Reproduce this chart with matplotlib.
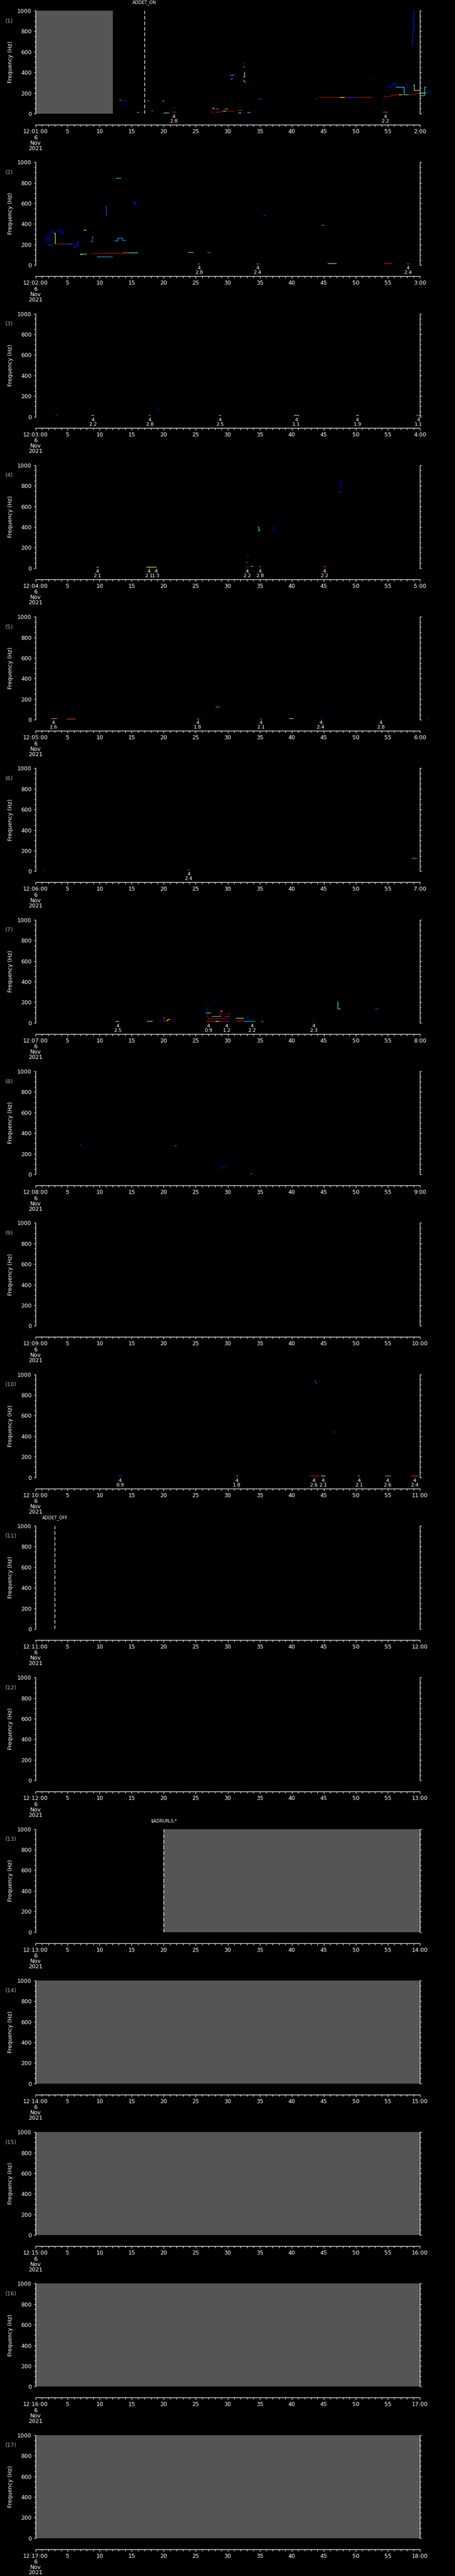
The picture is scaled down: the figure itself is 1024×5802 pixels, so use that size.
import matplotlib.pyplot as plt
import numpy as np

W, H = 1024, 5802
n_panels = 17
panel_h = H / n_panels

# panel n covers 12:n:00 .. 12:n+1:00, x in seconds
minutes = list(range(1, 18))

# grey "no data" spans (seconds)
gray_spans = {1: (0, 12.07), 13: (20, 60), 14: (0, 60), 15: (0, 60), 16: (0, 60), 17: (0, 60)}

# event markers: time, label
events = {1: (17.0, 'ADDET_ON'), 11: (3.0, 'ADDET_OFF'), 13: (20.0, '$ADRUN,0,*')}

# traces: (jet colour value, times, freqs) drawn as steps
p1_traces = [
    (0.3, [13.06, 13.4], [135, 135]),
    (0.15, [13.7, 14.2], [128, 128]),
    (0.12, [13.9, 14.2], [85, 85]),
    (0.4, [15.8, 16.1], [12, 12]),
    (0.12, [16.4, 16.8], [17, 17]),
    (0.75, [17.4, 17.7], [127, 127]),
    (0.1, [17.6, 18.0], [120, 120]),
    (0.8, [18.0, 18.3], [29, 29]),
    (0.35, [19.8, 20.1], [127, 127]),
    (0.5, [20.0, 20.8], [9, 9]),
    (0.12, [21.3, 21.7], [58, 58]),
    (0.9, [21.3, 21.9], [16, 16]),
    (0.95, [27.3, 27.9], [47, 47]),
    (0.55, [27.6, 27.75, 27.9], [52, 58, 58]),
    (0.95, [27.3, 27.9], [19, 19]),
    (0.3, [28.1, 28.6], [46, 46]),
    (0.92, [28.1, 28.9, 31.1], [19, 25, 25]),
    (0.65, [29.3, 29.6], [25, 25]),
    (0.35, [29.5, 30.0], [46, 46]),
    (0.3, [30.3, 31.0], [373, 373]),
    (0.25, [30.4, 30.6, 30.8], [330, 345, 345]),
    (0.85, [31.6, 32.1], [33, 33]),
    (0.5, [31.6, 32.1], [7, 7]),
    (0.12, [32.4, 32.7], [7, 7]),
    (0.35, [33.0, 33.5], [12, 12]),
    (0.15, [34.2, 34.5], [20, 20]),
    (0.15, [32.4, 32.5, 32.65], [485, 500, 500]),
    (0.35, [32.4, 32.65], [458, 458]),
    (0.6, [32.4, 32.6, 32.65], [356, 403, 403]),
    (0.35, [32.4, 32.5, 32.75], [328, 310, 305]),
    (0.2, [34.8, 35.4], [147, 147]),
    (0.15, [43.6, 44.0], [147, 147]),
    (0.95, [44.25, 52.7], [158, 158]),
    (0.65, [47.5, 48.2], [160, 160]),
    (0.15, [48.8, 50.0], [158, 158]),
    (0.12, [52.2, 52.6], [330, 330]),
    (0.85, [54.2, 55.0], [16, 16]),
    (0.95, [54.24, 55.2, 55.5, 56.2, 58.9, 59.3, 60.0, 60.5], [167, 172, 180, 184, 191, 198, 198, 198]),
    (0.12, [54.7, 55.5, 55.74, 56.1, 56.3], [257, 270, 296, 274, 274]),
    (0.35, [56.2, 57.5, 58.2], [257, 184, 184]),
    (0.1, [57.7, 57.85, 58.2], [292, 257, 257]),
    (0.65, [56.7, 57.2], [184, 184]),
    (0.12, [58.6, 58.9], [257, 257]),
    (0.55, [58.9, 59.1, 60.0], [282, 227, 227]),
    (0.35, [60.0, 60.7, 61.0], [175, 257, 257]),
    (0.55, [60.0, 61.0], [201, 201]),
    (0.15, [61.1, 61.4, 61.7], [227, 203, 203]),
    (0.15, [58.6, 58.8, 59.0, 59.15], [665, 809, 1000, 1000]),
]
p1_marks = [(21.6, '2.8'), (54.6, '2.2')]

p2_traces = [
    (0.1, [1.34, 1.73, 2.13, 2.59, 2.82], [282, 230, 310, 336, 310]),
    (0.6, [2.82, 3.05, 3.2], [310, 207, 207]),
    (0.15, [3.05, 3.6], [207, 207]),
    (0.9, [3.6, 4.6], [207, 207]),
    (0.2, [4.6, 5.2], [207, 207]),
    (0.85, [5.2, 5.6], [207, 207]),
    (0.15, [5.6, 6.0, 6.43, 6.5, 6.8], [207, 179, 202, 230, 230]),
    (0.2, [1.97, 2.66], [198, 198]),
    (0.12, [3.35, 3.93, 4.4, 4.6], [340, 310, 336, 336]),
    (0.6, [7.5, 7.9], [343, 343]),
    (0.4, [6.94, 7.98], [107, 107]),
    (0.7, [6.94, 7.2], [103, 103]),
    (0.25, [8.55, 8.9, 9.1], [230, 276, 276]),
    (0.95, [8.7, 10.2], [114, 114]),
    (0.92, [10.2, 13.5], [119, 119]),
    (0.8, [13.5, 14.5], [122, 122]),
    (0.45, [14.5, 15.95], [122, 122]),
    (0.3, [9.6, 12.0], [83, 83]),
    (0.2, [10.8, 11.0, 11.05], [572, 480, 480]),
    (0.3, [12.3, 12.83, 13.5, 14.06], [240, 266, 242, 242]),
    (0.35, [12.5, 13.3], [848, 848]),
    (0.15, [15.26, 15.4, 15.6], [588, 615, 592]),
    (0.4, [23.8, 24.6], [126, 126]),
    (0.25, [26.7, 27.3], [126, 126]),
    (0.35, [25.3, 25.6], [14, 14]),
    (0.35, [34.5, 34.8], [14, 14]),
    (0.18, [35.5, 35.9], [485, 485]),
    (0.3, [44.6, 45.1], [388, 388]),
    (0.45, [45.6, 46.95], [18, 18]),
    (0.9, [54.3, 55.6], [17, 17]),
    (0.25, [57.9, 58.4], [14, 14]),
]
p2_marks = [(25.5, '2.8'), (34.65, '2.4'), (58.1, '2.4')]

p3_traces = [
    (0.9, [3.1, 3.4], [19, 19]),
    (0.5, [8.65, 9.06], [14, 14]),
    (0.35, [17.6, 17.9], [14, 14]),
    (0.12, [18.8, 19.0, 19.26], [63, 70, 70]),
    (0.45, [28.6, 28.9], [14, 14]),
    (0.55, [40.3, 41.1], [14, 14]),
    (0.6, [50.0, 50.4], [14, 14]),
    (0.3, [59.4, 60.3], [14, 14]),
]
p3_marks = [(8.93, '2.2'), (17.8, '2.8'), (28.77, '2.5'), (40.7, '1.1'), (50.25, '1.9'), (59.76, '1.1')]

p4_traces = [
    (0.65, [9.5, 9.8], [12, 12]),
    (0.6, [17.3, 18.9], [12, 12]),
    (0.95, [32.7, 33.3], [16, 16]),
    (0.8, [32.8, 33.1], [59, 59]),
    (0.2, [33.0, 33.25], [123, 123]),
    (0.35, [33.5, 33.9], [20, 20]),
    (0.35, [34.7, 34.8, 34.95], [403, 364, 378]),
    (0.12, [34.7, 35.0], [320, 320]),
    (0.85, [34.8, 35.25], [16, 16]),
    (0.12, [37.05, 37.15, 37.3], [375, 403, 403]),
    (0.9, [44.8, 45.45], [16, 16]),
    (0.12, [47.35, 47.5, 47.6], [772, 820, 858]),
    (0.9, [47.3, 47.65], [743, 743]),
]
p4_marks = [(9.65, '2.1'), (17.67, '2.1'), (18.8, '1.3'), (33.0, '2.2'), (35.0, '2.8'), (45.1, '2.2')]

p5_traces = [
    (0.75, [2.4, 3.3], [15, 15]),
    (0.85, [4.8, 6.25], [11, 11]),
    (0.35, [25.1, 25.5], [11, 11]),
    (0.3, [28.1, 28.7], [124, 124]),
    (0.35, [35.0, 35.3], [11, 11]),
    (0.7, [39.55, 40.2], [15, 15]),
    (0.15, [44.4, 44.7], [11, 11]),
    (0.15, [53.7, 54.0], [11, 11]),
    (0.95, [61.1, 61.3], [7, 7]),
]
p5_marks = [(2.8, '2.6'), (25.3, '1.8'), (35.16, '2.1'), (44.5, '2.4'), (53.9, '2.8')]

p6_traces = [
    (0.15, [1.1, 1.4], [11, 11]),
    (0.3, [23.7, 24.0], [15, 15]),
    (0.3, [58.7, 59.5], [127, 127]),
]
p6_marks = [(23.9, '2.4')]

p7_traces = [
    (0.55, [12.5, 13.0], [15, 15]),
    (0.5, [17.35, 18.26], [15, 15]),
    (0.15, [18.1, 18.3], [22, 22]),
    (0.12, [19.2, 19.7], [11, 11]),
    (0.9, [19.75, 20.4], [19, 19]),
    (0.35, [19.9, 20.2], [49, 49]),
    (0.65, [20.4, 20.6, 21.0], [25, 33, 33]),
    (0.12, [26.6, 26.8, 27.1], [120, 150, 150]),
    (0.5, [26.6, 27.3], [98, 98]),
    (0.95, [26.6, 26.9, 30.3], [70, 40, 40]),
    (0.93, [26.6, 30.3], [15, 15]),
    (0.65, [28.0, 28.6], [15, 15]),
    (0.35, [27.5, 28.9], [64, 64]),
    (0.95, [28.5, 28.8, 29.3], [66, 94, 94]),
    (0.65, [28.8, 29.1], [116, 116]),
    (0.9, [29.5, 30.3], [64, 64]),
    (0.9, [29.9, 30.3], [90, 90]),
    (0.15, [29.5, 30.3], [41, 41]),
    (0.5, [31.3, 32.5], [45, 45]),
    (0.9, [31.3, 32.5], [21, 21]),
    (0.15, [32.9, 33.1, 33.2], [60, 41, 41]),
    (0.3, [32.5, 34.25], [15, 15]),
    (0.35, [35.25, 35.5], [15, 15]),
    (0.15, [43.2, 43.6], [15, 15]),
    (0.4, [47.1, 47.15, 47.6], [206, 137, 137]),
    (0.2, [53.0, 53.6], [137, 137]),
]
p7_marks = [(12.8, '2.5'), (26.96, '0.9'), (29.86, '1.2'), (33.76, '2.2'), (43.4, '2.3')]

p8_traces = [
    (0.15, [6.85, 7.0, 7.16], [293, 280, 280]),
    (0.3, [21.7, 22.0], [280, 280]),
    (0.12, [28.8, 29.0, 29.6], [60, 68, 68]),
    (0.35, [33.6, 33.8], [11, 11]),
    (0.12, [46.7, 47.0], [64, 64]),
]
p8_marks = []

p10_traces = [
    (0.15, [12.8, 13.6], [14, 14]),
    (0.3, [31.2, 31.6], [14, 14]),
    (0.15, [42.9, 43.2], [56, 56]),
    (0.9, [42.9, 44.3], [17, 17]),
    (0.2, [43.5, 43.7, 43.9], [938, 918, 918]),
    (0.7, [44.5, 45.2], [17, 17]),
    (0.2, [46.35, 46.7], [443, 443]),
    (0.35, [50.2, 50.6], [14, 14]),
    (0.75, [54.5, 55.4], [17, 17]),
    (0.85, [58.7, 59.7], [17, 17]),
]
p10_marks = [(13.2, '0.9'), (31.4, '1.8'), (43.4, '2.6'), (44.9, '2.1'), (50.5, '2.1'), (54.96, '2.6'), (59.2, '2.4')]

traces = {1: p1_traces, 2: p2_traces, 3: p3_traces, 4: p4_traces, 5: p5_traces,
          6: p6_traces, 7: p7_traces, 8: p8_traces, 10: p10_traces}
marks = {1: p1_marks, 2: p2_marks, 3: p3_marks, 4: p4_marks, 5: p5_marks,
         6: p6_marks, 7: p7_marks, 10: p10_marks}

fig = plt.figure(figsize=(W / 100, H / 100), dpi=100, facecolor='black')
jet = plt.get_cmap('jet')

x0, x1 = 80, 945
fs_tick = 9
white = 'white'


def fy(y):
    return 1 - y / H


def fx(x):
    return x / W


for i, n in enumerate(minutes):
    top = i * panel_h
    ax = fig.add_axes([fx(x0), fy(top + 256), (x1 - x0) / W, 232 / H])
    ax.set_facecolor('black')
    ax.set_xlim(0, 60)
    ax.set_ylim(0, 1000)
    for s in ['top', 'bottom']:
        ax.spines[s].set_visible(False)
    for s in ['left', 'right']:
        ax.spines[s].set_color(white)
        ax.spines[s].set_linewidth(1.0)
    ax.set_xticks([])
    ax.set_yticks(np.arange(0, 1001, 200))
    ax.set_yticks(np.arange(0, 1001, 50), minor=True)
    ax.tick_params(axis='y', which='both', direction='out', colors=white,
                   left=True, right=True, labelright=False, width=0.8)
    ax.tick_params(axis='y', which='major', length=3, pad=3.5, labelsize=fs_tick)
    ax.tick_params(axis='y', which='minor', length=2)

    if n in gray_spans:
        a, b = gray_spans[n]
        ax.axvspan(a, b, color='#555555', lw=0, zorder=0)

    for c, ts, fs in traces.get(n, []):
        ax.plot(ts, fs, drawstyle='steps-post', color=jet(c), lw=1.0,
                clip_on=False, solid_capstyle='butt')

    if n in events:
        t, label = events[n]
        ax.plot([t, t], [0, 1000], color=white, lw=1.0, linestyle=(0, (6, 3)))
        fig.text(fx(x0 + t / 60 * (x1 - x0)), fy(top + 6), label, color=white,
                 fontsize=7, ha='center', va='center', parse_math=False)

    for t, v in marks.get(n, []):
        xp = fx(x0 + t / 60 * (x1 - x0))
        fig.text(xp, fy(top + 263), '4', color=white, fontsize=8, ha='center', va='center')
        fig.text(xp, fy(top + 273), v, color=white, fontsize=8, ha='center', va='center')

    # panel number and y label
    fig.text(fx(12), fy(top + 47), '(%d)' % n, color='#a8a8a8', fontsize=fs_tick,
             ha='left', va='center')
    fig.text(fx(23.5), fy(top + 140), 'Frequency (Hz)', color=white, fontsize=fs_tick,
             rotation=90, ha='center', va='center')

    # time axis below the panel
    tax = fig.add_axes([fx(x0), fy(top + 281), (x1 - x0) / W, 0.5 / H])
    tax.set_facecolor('none')
    for s in ['top', 'left', 'right']:
        tax.spines[s].set_visible(False)
    tax.spines['bottom'].set_color(white)
    tax.spines['bottom'].set_linewidth(1.0)
    tax.set_xlim(0, 60)
    tax.set_yticks([])
    tax.set_xticks(np.arange(0, 61, 5))
    tax.set_xticks(np.arange(0, 61, 1), minor=True)
    labels = ['12:%02d:00' % n] + [str(s) for s in range(5, 60, 5)] + ['%d:00' % ((n + 1) % 60)]
    tax.set_xticklabels(labels)
    tax.tick_params(axis='x', which='both', direction='out', colors=white, width=0.8)
    tax.tick_params(axis='x', which='major', length=3.5, pad=3, labelsize=fs_tick)
    tax.tick_params(axis='x', which='minor', length=3)

    for k, s in enumerate(['6', 'Nov', '2021']):
        fig.text(fx(x0), fy(top + 310 + 12 * k), s, color=white, fontsize=fs_tick,
                 ha='center', va='center')

fig.savefig('out.png', dpi=100, facecolor='black')
